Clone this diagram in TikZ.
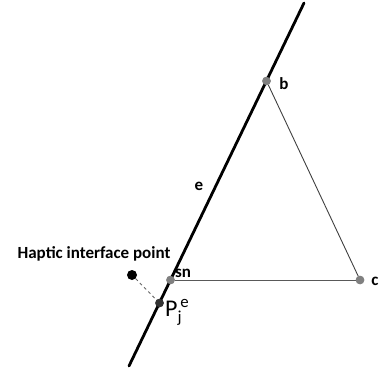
\documentclass[tikz,border=0pt]{standalone}
\usepackage{fontspec}
\setmainfont{Carlito}
\begin{document}
\begin{tikzpicture}[x=1pt,y=-1pt,
  vtx/.style={circle,fill=black!50,inner sep=0pt,minimum size=8.5pt},
  lbl/.style={font=\bfseries\fontsize{17}{18}\selectfont,inner sep=0pt},
  edge/.style={draw=black!75,line width=0.9pt}]
\useasboundingbox (0,0) rectangle (380,374);
\coordinate (top) at (304,3);
\coordinate (bot) at (129,366);
\node[vtx] (b) at (266.5,81) {};
\node[vtx] (sn) at (170.5,280) {};
\node[vtx] (c) at (360,280) {};
\node[circle,fill=black!80,inner sep=0pt,minimum size=8.5pt] (pj) at (159.5,303) {};
\node[circle,fill=black,inner sep=0pt,minimum size=10pt] (hip) at (132,275) {};
\draw[edge] (b) -- (c);
\draw[edge,draw=black!65] (sn) -- (c);
\draw[dashed,draw=black!60,line width=0.9pt] (hip) -- (pj);
\draw[line width=2.8pt,line cap=round] (top) -- (bot);
\node[vtx] at (b) {};
\node[vtx] at (sn) {};
\node[vtx] at (c) {};
\node[circle,fill=black!80,inner sep=0pt,minimum size=8.5pt] at (pj) {};
\node[lbl] (lb) at (284,84) {b};
\node[lbl] (lc) at (375,281) {c};
\node[lbl] (le) at (199,186) {e};
\node[lbl,anchor=west] (lsn) at (175,273) {sn};
\node[lbl] (lhip) at (94,254) {Haptic interface point};
\node[anchor=west,inner sep=0pt,font=\fontsize{24}{26}\selectfont] (lpj) at (165,312) {P$_{\mathrm{j}}^{\,\mathrm{e}}$};
\end{tikzpicture}
\end{document}
